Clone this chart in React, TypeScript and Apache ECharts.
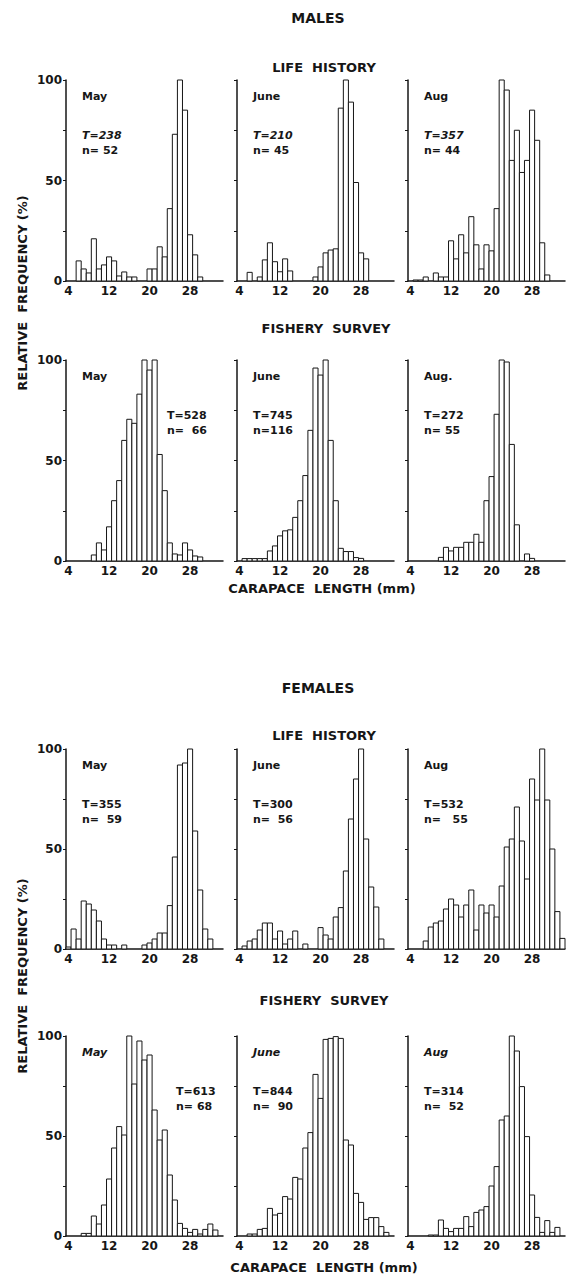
import React, { useEffect, useRef } from 'react';
import * as echarts from 'echarts';

// Carapace length classes (mm), one bar per class
const lengthsMm = [4, 5, 6, 7, 8, 9, 10, 11, 12, 13, 14, 15, 16, 17, 18, 19, 20, 21, 22, 23, 24, 25, 26, 27, 28, 29, 30, 31, 32, 33, 34];
const xTickValues = [4, 12, 20, 28];

// Relative frequency (%) per length class, males
const malesLifeMay = [0, 0, 10, 6, 4, 21, 6, 8, 12, 10, 2.5, 4.5, 2, 2, 0, 0, 6, 6, 17, 12, 36, 73, 100, 85, 23, 13, 2, 0, 0, 0, 0];
const malesLifeJune = [0, 0, 4.3, 0, 2, 10.5, 19, 9.6, 4.6, 11, 5, 0, 0, 0, 0, 2, 7, 14, 15.4, 16, 86, 100, 89, 49, 14, 11, 0, 0, 0, 0, 0];
const malesLifeAug = [0, 0.5, 0.5, 2, 0, 4, 2, 2, 20, 11, 23, 14, 32, 18, 6, 18, 15, 36, 100, 95, 60, 75, 54, 60, 85, 70, 19, 3, 0, 0, 0];
const malesFisheryMay = [0, 0, 0, 0, 0, 3, 9, 5.5, 17, 30, 40, 60, 70.5, 68.5, 83, 100, 95, 100, 53, 35, 9, 3.5, 3, 9, 5.5, 2.5, 2, 0, 0, 0, 0];
const malesFisheryJune = [0, 1.2, 1.2, 1.2, 1.2, 1.2, 5, 7.5, 12.5, 15, 15.5, 21.7, 30, 42.5, 65, 96, 92.5, 100, 60, 30, 6.3, 4.7, 4.7, 1.7, 1.3, 0, 0, 0, 0, 0, 0];
const malesFisheryAug = [0, 0, 0, 0, 0, 0, 1.8, 6.8, 5, 6.8, 6.8, 9.3, 9.3, 13.3, 9.3, 30, 42, 73, 100, 99, 58, 18, 0, 3.5, 1.3, 0, 0, 0, 0, 0, 0];

// Relative frequency (%) per length class, females
const femalesLifeMay = [1, 10, 5, 24, 22.5, 19.5, 14, 5, 2, 2, 0, 2, 0, 0, 0, 2, 3, 5, 8, 8, 21.7, 46, 92, 93, 100, 59, 29.5, 10, 5, 0, 0];
const femalesLifeJune = [0, 1.5, 4, 5, 9.5, 13, 13, 5, 9, 2.5, 5, 9, 0, 2.5, 0, 0, 10.7, 7, 5, 16, 20.7, 39, 65, 85, 100, 55, 31, 21, 5, 0, 0];
const femalesLifeAug = [0, 0, 0, 4, 11, 13, 14, 20, 25, 22, 16, 22, 29.5, 9.5, 22, 18, 22, 16, 31.5, 51, 55, 71, 54, 35, 85, 74.5, 100, 74.5, 50, 18.7, 5.3];
const femalesFisheryMay = [0, 0, 0, 1.3, 1.3, 10, 6, 15.5, 28.5, 44, 54.7, 50.5, 100, 76, 97.5, 88, 90.5, 63, 48, 53, 30.5, 18, 6.3, 3.8, 1.8, 3.3, 1, 3.3, 6, 3, 0];
const femalesFisheryJune = [0, 0, 1, 1, 3.3, 3.8, 13.8, 10.5, 11.3, 19.7, 18.5, 29.3, 28.5, 44, 51.7, 80.8, 68.8, 98.3, 98.8, 99.7, 98.8, 48, 45.5, 21.3, 16.8, 8.3, 9.2, 9.2, 4.7, 1.8, 0];
const femalesFisheryAug = [0, 0, 0, 0, 0.5, 0.5, 8, 3.8, 2.2, 3.8, 3.8, 9.7, 4.7, 11.8, 13, 14.7, 25, 34.7, 58, 60, 100, 92.5, 74.7, 49.7, 20.5, 9.3, 1.8, 7.7, 1.8, 4.3, 0];

type Panel = {
  values: number[];
  col: number;
  row: number;
  month: string;
  total: string;
  count: string;
  monthItalic?: boolean;
  totalItalic?: boolean;
  statsX?: number;
};

const panels: Panel[] = [
  { values: malesLifeMay, col: 0, row: 0, month: 'May', total: 'T=238', count: 'n= 52', totalItalic: true },
  { values: malesLifeJune, col: 1, row: 0, month: 'June', total: 'T=210', count: 'n= 45', totalItalic: true },
  { values: malesLifeAug, col: 2, row: 0, month: 'Aug', total: 'T=357', count: 'n= 44', totalItalic: true },
  { values: malesFisheryMay, col: 0, row: 1, month: 'May', total: 'T=528', count: 'n=  66', statsX: 167 },
  { values: malesFisheryJune, col: 1, row: 1, month: 'June', total: 'T=745', count: 'n=116' },
  { values: malesFisheryAug, col: 2, row: 1, month: 'Aug.', total: 'T=272', count: 'n= 55' },
  { values: femalesLifeMay, col: 0, row: 2, month: 'May', total: 'T=355', count: 'n=  59' },
  { values: femalesLifeJune, col: 1, row: 2, month: 'June', total: 'T=300', count: 'n=  56' },
  { values: femalesLifeAug, col: 2, row: 2, month: 'Aug', total: 'T=532', count: 'n=   55' },
  { values: femalesFisheryMay, col: 0, row: 3, month: 'May', total: 'T=613', count: 'n= 68', monthItalic: true, statsX: 176 },
  { values: femalesFisheryJune, col: 1, row: 3, month: 'June', total: 'T=844', count: 'n=  90', monthItalic: true },
  { values: femalesFisheryAug, col: 2, row: 3, month: 'Aug', total: 'T=314', count: 'n=  52', monthItalic: true },
];

const colLeft = [66, 237, 408];
const rowTop = [80, 360, 749, 1036];
const rowHeight = [201, 201, 200, 200];
const gridWidth = 157;

const FONT = '"DejaVu Sans", "Liberation Sans", Arial, sans-serif';
const INK = '#161616';

function boldText(text: string, x: number, y: number, size: number, opts: any = {}) {
  return {
    type: 'text',
    x,
    y,
    rotation: opts.rotation || 0,
    silent: true,
    style: {
      text,
      fill: INK,
      font: `${opts.italic ? 'italic ' : ''}bold ${size}px ${FONT}`,
      textAlign: opts.align || 'left',
      textVerticalAlign: 'middle',
    },
  };
}

function buildOption() {
  const grid = panels.map((p) => ({
    left: colLeft[p.col],
    top: rowTop[p.row],
    width: gridWidth,
    height: rowHeight[p.row],
    containLabel: false,
    outerBoundsMode: 'none',
  }));

  const xAxis = panels.map((p, i) => ({
    type: 'value',
    gridIndex: i,
    min: 3.5,
    max: 34.5,
    axisLine: { show: true, onZero: false, lineStyle: { color: INK, width: 1.5 } },
    axisTick: { show: false },
    splitLine: { show: false },
    axisLabel: {
      customValues: xTickValues,
      fontFamily: FONT,
      fontWeight: 'bold',
      fontSize: 12,
      color: INK,
      margin: 4,
    },
  }));

  const yAxis = panels.map((p, i) => ({
    type: 'value',
    gridIndex: i,
    min: 0,
    max: 100,
    interval: 25,
    axisLine: { show: true, lineStyle: { color: INK, width: 1.5 } },
    axisTick: { show: true, length: 3, lineStyle: { color: INK, width: 1 } },
    splitLine: { show: false },
    axisLabel: {
      show: p.col === 0,
      formatter: (v: number) => (v % 50 === 0 ? String(v) : ''),
      fontFamily: FONT,
      fontWeight: 'bold',
      fontSize: 12,
      color: INK,
      margin: 4,
    },
  }));

  const series = panels.map((p, i) => ({
    type: 'custom',
    xAxisIndex: i,
    yAxisIndex: i,
    clip: false,
    encode: { x: 0, y: 1 },
    data: lengthsMm.map((len, k) => [len, p.values[k]]).filter((d) => d[1] > 0),
    renderItem: (_params: any, api: any) => {
      const x = api.value(0) as number;
      const y = api.value(1) as number;
      const topLeft = api.coord([x - 0.5, y]);
      const bottomRight = api.coord([x + 0.5, 0]);
      return {
        type: 'rect',
        shape: {
          x: topLeft[0],
          y: topLeft[1],
          width: bottomRight[0] - topLeft[0],
          height: bottomRight[1] - topLeft[1],
        },
        style: { fill: '#ffffff', stroke: INK, lineWidth: 1 },
      };
    },
  }));

  const texts: any[] = [];
  panels.forEach((p) => {
    const left = colLeft[p.col];
    const top = rowTop[p.row];
    const sx = p.statsX !== undefined ? p.statsX : left + 16;
    texts.push(boldText(p.month, left + 16, top + 16, 11, { italic: p.monthItalic }));
    texts.push(boldText(p.total, sx, top + 55, 11, { italic: p.totalItalic }));
    texts.push(boldText(p.count, sx, top + 70, 11));
  });

  // Section headings
  texts.push(boldText('MALES', 318, 18, 14, { align: 'center' }));
  texts.push(boldText('LIFE  HISTORY', 324, 67, 13, { align: 'center' }));
  texts.push(boldText('FISHERY  SURVEY', 326, 328, 13, { align: 'center' }));
  texts.push(boldText('CARAPACE  LENGTH (mm)', 322, 588, 13, { align: 'center' }));
  texts.push(boldText('FEMALES', 318, 688, 14, { align: 'center' }));
  texts.push(boldText('LIFE  HISTORY', 324, 735, 13, { align: 'center' }));
  texts.push(boldText('FISHERY  SURVEY', 324, 1000, 13, { align: 'center' }));
  texts.push(boldText('CARAPACE  LENGTH (mm)', 324, 1267, 13, { align: 'center' }));
  texts.push(boldText('RELATIVE  FREQUENCY (%)', 22, 293, 13, { align: 'center', rotation: Math.PI / 2 }));
  texts.push(boldText('RELATIVE  FREQUENCY (%)', 22, 976, 13, { align: 'center', rotation: Math.PI / 2 }));

  return {
    animation: false,
    backgroundColor: '#ffffff',
    grid,
    xAxis,
    yAxis,
    series,
    graphic: texts,
  };
}

export default function App() {
  const ref = useRef<HTMLDivElement>(null);
  useEffect(() => {
    if (!ref.current) return;
    const chart = echarts.init(ref.current, null, { renderer: 'svg' });
    chart.setOption(buildOption() as any);
    return () => chart.dispose();
  }, []);
  return (
    <div
      ref={ref}
      style={{ position: 'absolute', left: 0, top: 0, width: 567, height: 1274, background: '#fff' }}
    />
  );
}
